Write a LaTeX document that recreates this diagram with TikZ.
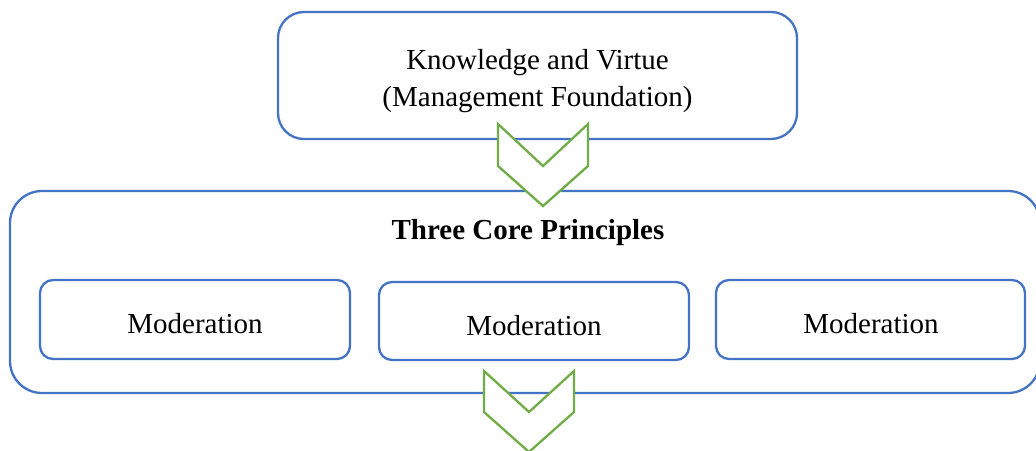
\documentclass[tikz,border=0pt]{standalone}
\usepackage{fontspec}
\setmainfont{Liberation Serif}
\begin{document}
\begin{tikzpicture}[x=1pt,y=-1pt,
  bluebox/.style={draw=boxblue,line width=2.3pt,fill=white,inner sep=0pt},
  chev/.style={draw=chevgreen,line width=2.3pt,fill=white,line join=miter},
  lbl/.style={font=\fontsize{29}{37}\selectfont,align=center}]
\definecolor{boxblue}{HTML}{4472C4}
\definecolor{chevgreen}{HTML}{70AD47}
\useasboundingbox (0,0) rectangle (1036,450);
% top box
\draw[bluebox,rounded corners=26pt] (278,12) rectangle (797,139);
\node[lbl] (top) at (537.5,81) {Knowledge and Virtue\\(Management Foundation)};
% big box
\draw[bluebox,rounded corners=32pt] (10,191) rectangle (1040,393);
\node[lbl,font=\fontsize{29}{37}\selectfont\bfseries] (title) at (528,233) {Three Core Principles};
% small boxes
\draw[bluebox,rounded corners=13pt] (40,280) rectangle (350,359);
\node[lbl] (m1) at (195,323.5) {Moderation};
\draw[bluebox,rounded corners=13pt] (379,282) rectangle (689,360);
\node[lbl] (m2) at (534,325.5) {Moderation};
\draw[bluebox,rounded corners=13pt] (716,280) rectangle (1025,359);
\node[lbl] (m3) at (871,323.5) {Moderation};
% chevrons
\draw[chev] (498,124) -- (543,166) -- (588,124) -- (588,166) -- (543,206) -- (498,166) -- cycle;
\draw[chev] (484,371) -- (529,412) -- (574,371) -- (574,412) -- (529,452) -- (484,412) -- cycle;
\end{tikzpicture}
\end{document}
